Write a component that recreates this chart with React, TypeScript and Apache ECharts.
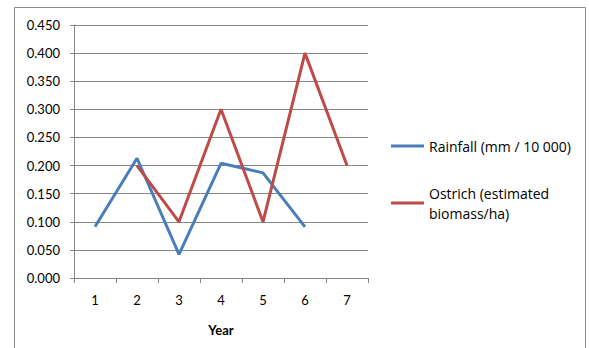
import React, { useEffect, useRef } from "react";
import * as echarts from "echarts";

const years = ["1", "2", "3", "4", "5", "6", "7"];
const rainfall: (number | null)[] = [0.091, 0.213, 0.042, 0.204, 0.187, 0.091, null];
const ostrich: (number | null)[] = [null, 0.2, 0.1, 0.3, 0.1, 0.4, 0.2];
const seriesNames = ["Rainfall (mm / 10 000)", "Ostrich (estimated\nbiomass/ha)"];
const colors = ["#4A7EBB", "#BE4B48"];

export default function App() {
  const ref = useRef<HTMLDivElement>(null);
  useEffect(() => {
    if (!ref.current) return;
    const chart = echarts.init(ref.current, null, { renderer: "svg" });
    const font = "Lato, 'Liberation Sans', sans-serif";
    const legendFont = "'Open Sans', 'Liberation Sans', sans-serif";
    const gray = "#868686";
    chart.setOption({
      animation: false,
      textStyle: { fontFamily: font },
      graphic: [
        {
          type: "rect",
          shape: { x: 14.5, y: 7.5, width: 571, height: 360 },
          style: { fill: "none", stroke: "#8c8c8c", lineWidth: 1 },
          silent: true,
        },
      ],
      grid: { left: 74, right: 221, top: 25, bottom: 70 },
      legend: {
        orient: "vertical",
        left: 391,
        top: 136,
        padding: 0,
        itemWidth: 33,
        itemHeight: 3,
        itemGap: 17,
        icon: "rect",
        textStyle: { fontFamily: legendFont, fontSize: 14, color: "#000", lineHeight: 20 },
        data: [
          { name: seriesNames[0] },
          { name: seriesNames[1], textStyle: { padding: [20, 0, 0, 0] } },
        ],
      },
      xAxis: {
        type: "category",
        data: years,
        boundaryGap: true,
        name: "Year",
        nameLocation: "middle",
        nameGap: 45,
        nameTextStyle: { fontFamily: font, fontSize: 13, fontWeight: "bold", color: "#000" },
        axisLine: { lineStyle: { color: gray } },
        axisTick: { show: true, length: 5, lineStyle: { color: gray } },
        axisLabel: { fontFamily: font, fontSize: 13, color: "#000", margin: 15 },
        splitLine: { show: false },
      },
      yAxis: {
        type: "value",
        min: 0,
        max: 0.45,
        interval: 0.05,
        axisLine: { show: true, lineStyle: { color: gray } },
        axisTick: { show: true, length: 4, lineStyle: { color: gray } },
        axisLabel: {
          fontFamily: font,
          fontSize: 13,
          color: "#000",
          margin: 14,
          formatter: (v: number) => v.toFixed(3),
        },
        splitLine: { show: true, lineStyle: { color: gray, width: 1 } },
      },
      series: [
        {
          name: seriesNames[0],
          type: "line",
          data: rainfall,
          showSymbol: false,
          symbol: "none",
          connectNulls: false,
          lineStyle: { color: colors[0], width: 3 },
          itemStyle: { color: colors[0] },
        },
        {
          name: seriesNames[1],
          type: "line",
          data: ostrich,
          showSymbol: false,
          symbol: "none",
          connectNulls: false,
          lineStyle: { color: colors[1], width: 3 },
          itemStyle: { color: colors[1] },
        },
      ],
    });
    return () => chart.dispose();
  }, []);
  return <div ref={ref} style={{ width: 589, height: 348, position: "absolute", left: 0, top: 0 }} />;
}
